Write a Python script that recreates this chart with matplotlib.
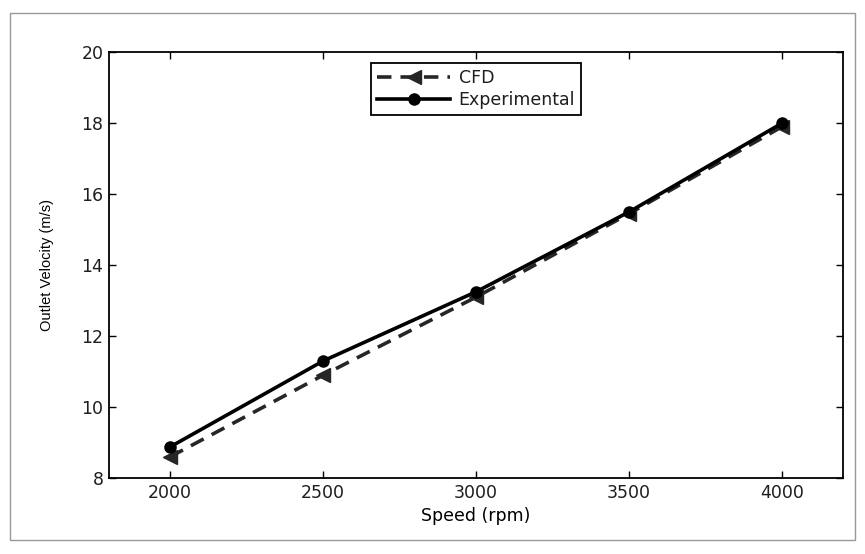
import matplotlib.pyplot as plt
from matplotlib.patches import Rectangle

speed = [2000, 2500, 3000, 3500, 4000]
cfd = [8.6, 10.9, 13.1, 15.45, 17.9]
experimental = [8.88, 11.3, 13.25, 15.5, 18.0]

plt.rcParams['font.family'] = ['DejaVu Sans']
plt.rcParams['text.color'] = '#1e1e1e'
plt.rcParams['xtick.labelcolor'] = '#1e1e1e'
plt.rcParams['ytick.labelcolor'] = '#1e1e1e'

fig = plt.figure(figsize=(8.65, 5.54), dpi=100)
ax = fig.add_axes([0.126, 0.137, 0.849, 0.769])

# scanned page border
fig.patches.append(Rectangle((0.012, 0.025), 0.976, 0.952, transform=fig.transFigure,
                             fill=False, edgecolor='#999999', linewidth=1.0))

ax.plot(speed, cfd, color='#262626', linestyle='--', linewidth=2.6, dashes=(4, 2.5),
        marker='<', markersize=10, markerfacecolor='#262626', label='CFD')
ax.plot(speed, experimental, color='black', linewidth=2.6,
        marker='o', markersize=8, label='Experimental')

ax.set_xlim(1800, 4200)
ax.set_ylim(8, 20)
ax.set_xticks([2000, 2500, 3000, 3500, 4000])
ax.set_yticks([8, 10, 12, 14, 16, 18, 20])
ax.tick_params(direction='in', top=True, right=True, labelsize=12.5, length=5, width=1, pad=4)
for s in ax.spines.values():
    s.set_linewidth(1.3)

ax.set_xlabel('Speed (rpm)', fontsize=12.5, labelpad=4)
ax.set_ylabel('Outlet Velocity (m/s)', fontsize=10.5, family='Liberation Sans', labelpad=20)

leg = ax.legend(loc='upper center', bbox_to_anchor=(0.50, 0.975), fontsize=12.5,
                handlelength=4.2, frameon=True, fancybox=False, borderpad=0.35,
                labelspacing=0.25, handletextpad=0.5, borderaxespad=0)
leg.get_frame().set_edgecolor('black')
leg.get_frame().set_linewidth(1.3)
leg.get_frame().set_alpha(1)

fig.savefig('out.png', dpi=100)
